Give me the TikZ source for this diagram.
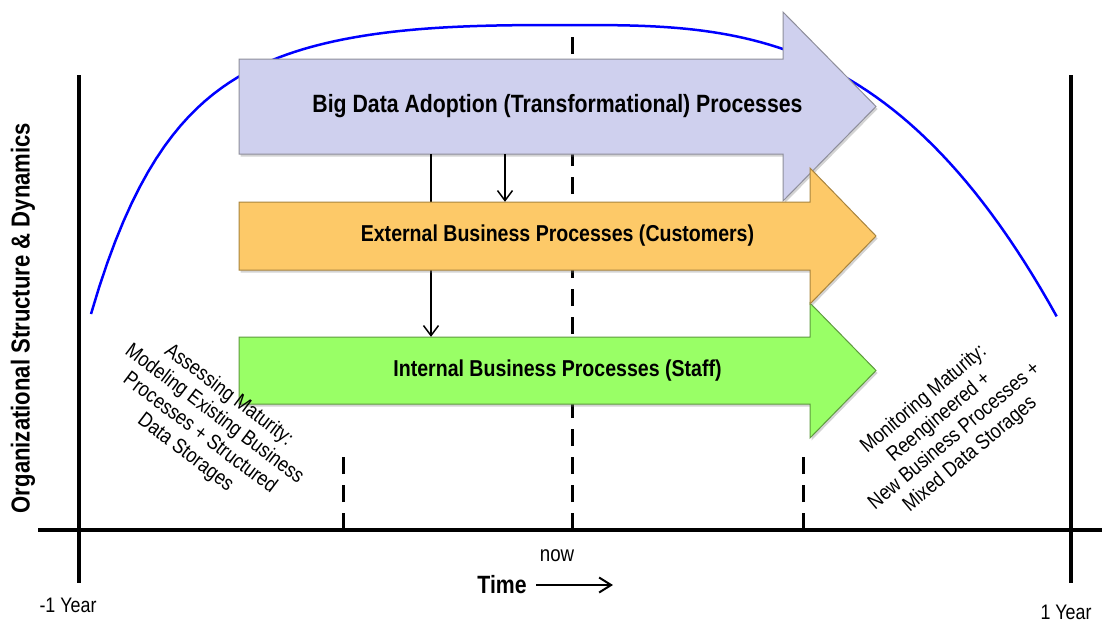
\documentclass[tikz,border=0pt]{standalone}
\usepackage{fontspec}
\setmainfont{Liberation Sans}
\newfontfamily\condfont{Liberation Sans}[FakeStretch=0.85]
\usepackage{tikz}
\usetikzlibrary{arrows.meta, shadows}
\definecolor{lavender}{HTML}{CFD0EE}
\definecolor{lavenderline}{HTML}{8E8E9A}
\definecolor{apricot}{HTML}{FDC968}
\definecolor{apricotline}{HTML}{A8843E}
\definecolor{lime}{HTML}{99FF66}
\definecolor{limeline}{HTML}{5E9A3E}

\begin{document}
\begin{tikzpicture}[x=1pt, y=-1pt,
  axis/.style={line width=3.5pt},
  guide/.style={line width=3pt, dash pattern=on 17pt off 11pt},
  procshape/.style={line width=1pt, drop shadow={shadow xshift=1.5pt, shadow yshift=-2.5pt, opacity=0.35}},
  proclabel/.style={inner sep=0pt, minimum width=637pt, font=\condfont\bfseries\fontsize{23}{28}\selectfont},
  link/.style={line width=1.5pt, -{Straight Barb[length=10pt, width=15pt]}},
  phase/.style={align=center, font=\condfont\fontsize{21}{24}\selectfont}]
\useasboundingbox (0,0) rectangle (1102,624);

% --- Axes and time marks ---
\draw[axis] (38,530) -- (1102,530);
\draw[axis] (79,75) -- (79,583);
\draw[axis] (1071,75) -- (1071,583);
\draw[guide] (572,530) -- (572,25);
\draw[guide] (343,530) -- (343,455);
\draw[guide] (803,530) -- (803,455);

% --- Adoption curve ---
\draw[blue, line width=2.5pt]
  plot[domain=1:0, samples=60] ({572-481*\x}, {25+289*(0.45*\x*\x*\x+0.55*\x*\x*\x*\x*\x*\x*\x*\x)})
  -- plot[domain=0:1, samples=60] ({572+485*\x}, {25+292*\x*\x*\x});

% --- Process arrows ---
\path[procshape, fill=lavender, draw=lavenderline]
  (239,59) -- (783,59) -- (783,12) -- (876,106.5) -- (783,201) -- (783,154) -- (239,154) -- cycle;
\node[proclabel, minimum height=95pt, font=\condfont\bfseries\fontsize{25}{30}\selectfont] (big) at (557.5,106.5)
  {Big Data Adoption (Transformational) Processes};

\path[procshape, fill=lime, draw=limeline]
  (239,337) -- (810,337) -- (810,303) -- (876,370.5) -- (810,438) -- (810,404) -- (239,404) -- cycle;
\node[proclabel, minimum height=67pt] (int) at (557.5,370.5) {Internal Business Processes (Staff)};

\draw[link] ([xshift=-126.5pt]big.south) -- ([xshift=-126.5pt]int.north);

\path[procshape, fill=apricot, draw=apricotline]
  (239,202) -- (810,202) -- (810,168) -- (876,236) -- (810,304) -- (810,270) -- (239,270) -- cycle;
\node[proclabel, minimum height=68pt] (ext) at (557.5,236) {External Business Processes (Customers)};

\draw[link] ([xshift=-52.5pt]big.south) -- ([xshift=-52.5pt]ext.north);

% --- Labels ---
\node[rotate=90, font=\condfont\bfseries\fontsize{26}{30}\selectfont] (ylabel) at (23,318)
  {Organizational Structure \& Dynamics};
\node[phase, rotate=-37] (assess) at (207,424)
  {Assessing Maturity:\\Modeling Existing Business\\Processes + Structured\\Data Storages};
\node[phase, rotate=40] (monitor) at (947,427)
  {Monitoring Maturity:\\Reengineered +\\New Business Processes +\\Mixed Data Storages};
\node[font=\condfont\fontsize{22}{26}\selectfont] (now) at (557,556) {now};
\node[font=\condfont\bfseries\fontsize{25}{30}\selectfont] (time) at (502,585) {Time};
\coordinate (timeend) at (613,585);
\draw[line width=2pt, -{Straight Barb[length=12pt, width=15pt]}] ([xshift=6pt]time.east) -- (timeend);
\node[font=\condfont\fontsize{21}{25}\selectfont] (start) at (68,605) {-1 Year};
\node[font=\condfont\fontsize{21}{25}\selectfont] (end) at (1066,612) {1 Year};
\end{tikzpicture}
\end{document}
